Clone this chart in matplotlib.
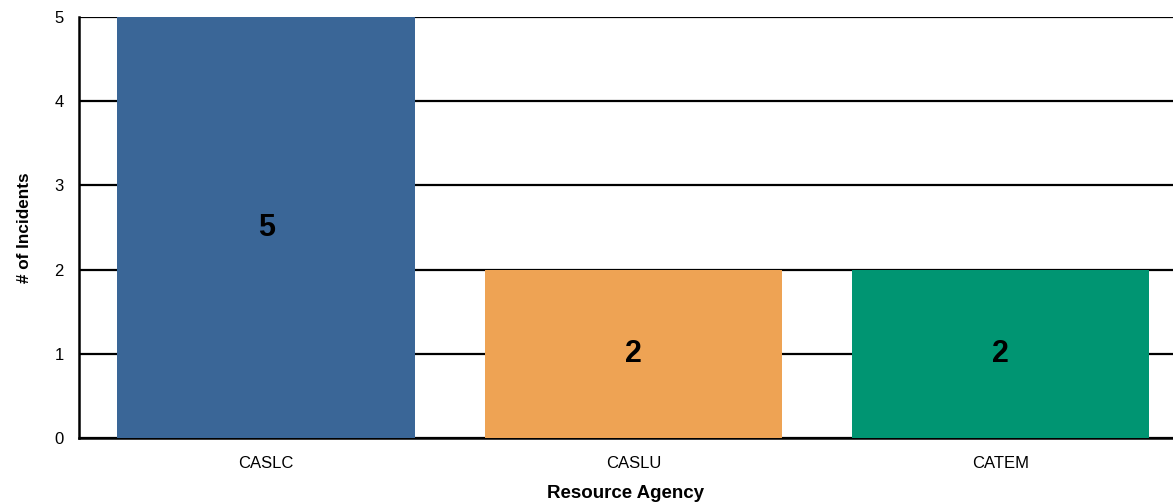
import matplotlib.pyplot as plt

# data
agencies = ["CASLC", "CASLU", "CATEM"]
incidents = [5, 2, 2]
bar_colors = ["#3A6697", "#EEA354", "#009572"]

plt.rcParams['font.family'] = ['Liberation Sans', 'DejaVu Sans']

fig = plt.figure(figsize=(11.73, 5.04), dpi=100)
ax = fig.add_axes([0.0673, 0.131, 0.9327, 0.835])

x_pos = list(range(len(agencies)))
bars = ax.bar(x_pos, incidents, width=0.81, color=bar_colors, zorder=3)

# value labels in the middle of each bar
for rect, val in zip(bars, incidents):
    ax.text(rect.get_x() + rect.get_width() / 2, val / 2, str(val),
            ha="center", va="center", fontsize=22, fontweight="bold", zorder=4)

ax.set_xlim(-0.51, 2.47)
ax.set_ylim(0, 5)
ax.set_yticks(range(0, 6))
ax.set_xticks(x_pos)
ax.set_xticklabels(agencies)
ax.tick_params(axis="both", length=0, labelsize=12)
ax.tick_params(axis="x", pad=13)
ax.tick_params(axis="y", pad=11)

ax.grid(axis="y", color="black", linewidth=1.6, zorder=0)
ax.spines["top"].set_visible(False)
ax.spines["right"].set_visible(False)
ax.spines["left"].set_linewidth(1.8)
ax.spines["bottom"].set_linewidth(1.8)

ax.set_xlabel("Resource Agency", fontsize=13.5, fontweight="bold", labelpad=10)
ax.set_ylabel("# of Incidents", fontsize=12.3, fontweight="bold", labelpad=16)

fig.savefig("out.png", dpi=100)
